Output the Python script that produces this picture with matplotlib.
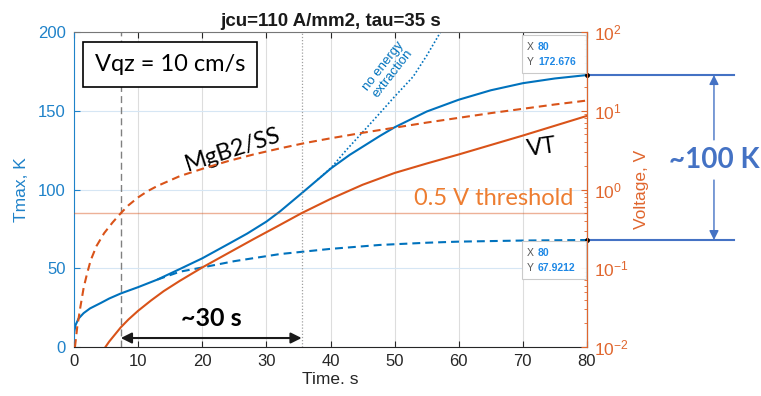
import numpy as np
import matplotlib
matplotlib.use('Agg')
import matplotlib.pyplot as plt
from matplotlib.patches import Rectangle

# Tmax, K (left axis)
t_vt = [0, 0.25, 0.7, 1.5, 2.5, 4.2, 5.5, 7.3, 10, 13, 16.5, 20, 24.3, 27, 30, 32.1,
        35.5, 40.1, 43, 47.7, 50, 55, 60, 65, 70, 75, 80]
tmax_vt = [9, 14, 18, 21.5, 24.5, 28, 30.8, 34, 38, 42.8, 49.5, 56.3, 65.9, 72, 79.6, 86,
           97.6, 113.5, 122, 134, 139.5, 149.5, 157, 163, 167.5, 170.5, 172.676]

t_noext = [38, 40.1, 42.5, 45.1, 47.7, 50, 52.9, 55, 57.6]
tmax_noext = [106.3, 113.8, 125.2, 136.8, 148.5, 159, 171.7, 185, 203]

t_mgb2 = [13, 16.5, 20, 25, 32.1, 40, 47.7, 55, 60, 70, 80]
tmax_mgb2 = [42.8, 47.8, 50.5, 54.5, 59, 62.3, 64.8, 66.2, 66.9, 67.6, 67.9212]

# Voltage, V (right axis)
t_v_vt = [4.9, 5.5, 6.5, 7.3, 8.5, 10, 12, 14, 16.5, 20, 24, 28, 32, 35.5, 40, 45, 50,
          55, 60, 65, 70, 75, 80]
v_vt = [0.0100, 0.01175, 0.01479, 0.01778, 0.02239, 0.02884, 0.0389, 0.05129, 0.06918,
        0.1023, 0.1549, 0.2344, 0.3508, 0.5012, 0.7586, 1.148, 1.622, 2.138, 2.786,
        3.673, 4.842, 6.457, 8.610]

t_v_mgb2 = [0.15, 0.5, 1, 1.5, 2, 2.6, 3.5, 4.7, 6, 7.3, 8.5, 10, 11.5, 13, 16.5, 20.3,
            24, 28, 32, 36, 40, 45, 50, 55, 60, 65, 70, 75, 80]
v_mgb2 = [0.0100, 0.0178, 0.0324, 0.0562, 0.0832, 0.126, 0.191, 0.279, 0.380, 0.501,
          0.631, 0.794, 0.955, 1.109, 1.479, 1.862, 2.291, 2.786, 3.311, 3.890, 4.467,
          5.248, 6.095, 7.079, 8.128, 9.333, 10.59, 12.02, 13.49]

v_threshold = 0.5
t_start = 7.3   # MgB2/SS reaches threshold
t_end = 35.5    # VT reaches threshold

xticks = list(range(0, 81, 10))
yticks_left = [0, 50, 100, 150, 200]

BLUE = '#0072BD'
BLUE_AX = '#1F82C9'
ORANGE = '#D95319'
ORANGE_AX = '#E0662E'
PPT_BLUE = '#4472C4'
PPT_ORANGE = '#ED7D31'
DARK = '#262626'
ANNOT_FONT = ['Lato', 'DejaVu Sans']

plt.rcParams['font.family'] = ['Liberation Sans', 'DejaVu Sans']

W, H = 761, 396
fig = plt.figure(figsize=(W / 100, H / 100), dpi=100)
ax = fig.add_axes([74 / W, 1 - 347 / H, 513 / W, 315 / H])
ax2 = ax.twinx()

# grid
ax.set_axisbelow(True)
ax.grid(axis='x', color='#DDDDDD', lw=0.8)
ax.grid(axis='y', color='#D6E6F4', lw=0.8)

# Tmax curves
ax.plot(t_mgb2, tmax_mgb2, color=BLUE, lw=1.5, ls=(0, (3.8, 2.4)))
ax.plot(t_noext, tmax_noext, color=BLUE, lw=1.2, ls=(0, (1, 1.3)))
ax.plot(t_vt, tmax_vt, color=BLUE, lw=1.5)

ax.axvline(t_start, color='#808080', lw=1, ls=(0, (5, 3)))
ax.axvline(t_end, color='#A0A0A0', lw=0.9, ls=(0, (1, 1.5)))

# voltage curves
ax2.set_yscale('log')
ax2.axhline(v_threshold, color=ORANGE, lw=1, alpha=0.45)
ax2.plot(t_v_mgb2, v_mgb2, color=ORANGE, lw=1.5, ls=(0, (3.8, 2.4)))
ax2.plot(t_v_vt, v_vt, color=ORANGE, lw=1.5)

ax.set_xlim(0, 80)
ax.set_ylim(0, 200)
ax2.set_ylim(1e-2, 1e2)
ax.set_xticks(xticks)
ax.set_yticks(yticks_left)

ax.tick_params(axis='x', direction='in', top=True, colors=DARK, labelsize=12, length=4, pad=5)
ax.tick_params(axis='y', direction='in', colors=BLUE_AX, labelsize=12, length=4, pad=6)
ax2.tick_params(axis='y', which='major', direction='in', colors=ORANGE_AX, labelsize=12.5,
                length=4, pad=5)
ax2.tick_params(axis='y', which='minor', direction='in', colors=ORANGE_AX, length=2)

ax.spines['left'].set_color(BLUE_AX)
ax.spines['bottom'].set_color(DARK)
ax.spines['top'].set_color('#777777')
for s in ['left', 'top', 'bottom']:
    ax2.spines[s].set_visible(False)
ax2.spines['right'].set_color(ORANGE_AX)

ax.set_xlabel('Time. s', fontsize=12.5, color=DARK, labelpad=2)
ax.set_ylabel('Tmax, K', fontsize=12.5, color=BLUE_AX, labelpad=6)
ax2.set_ylabel('Voltage, V', fontsize=12.5, color=ORANGE_AX, labelpad=4)
ax.set_title('jcu=110 A/mm2, tau=35 s', fontsize=13.5, fontweight='bold', color='#1a1a1a', pad=4)

# slide annotations
ax.text(15, 179.5, 'Vqz = 10 cm/s', fontsize=17, family=ANNOT_FONT, ha='center', va='center',
        bbox=dict(boxstyle='square,pad=0.5', fc='white', ec='black', lw=1.2), zorder=5)
ax.text(24.8, 125, 'MgB2/SS', fontsize=17, family=ANNOT_FONT, rotation=18,
        ha='center', va='center')
ax.text(73, 126.5, 'VT', fontsize=17, family=ANNOT_FONT, rotation=8, ha='center', va='center')
ax.text(65.5, 94, '0.5 V threshold', fontsize=17, family=ANNOT_FONT, color=PPT_ORANGE,
        ha='center', va='center')
ax.text(49.0, 176, 'no energy\nextraction', fontsize=9.5, color=BLUE, rotation=52,
        ha='center', va='center', linespacing=1.0)

ax.annotate('', xy=(t_start, 5.7), xytext=(t_end, 5.7),
            arrowprops=dict(arrowstyle='<|-|>', color='#1a1a1a', lw=1.5, mutation_scale=16,
                            shrinkA=0, shrinkB=0))
ax.text((t_start + t_end) / 2, 17.8, '~30 s', fontsize=18, fontweight='bold',
        family=ANNOT_FONT, ha='center', va='center')

# ~100 K bracket outside the axes
t_far = 103
t_arrow = 99.8
for yv in [tmax_vt[-1], tmax_mgb2[-1]]:
    ax.plot([80, t_far], [yv, yv], color=PPT_BLUE, lw=1.5, clip_on=False, zorder=6)
ax.annotate('', xy=(t_arrow, tmax_vt[-1]), xytext=(t_arrow, 131.5), annotation_clip=False,
            arrowprops=dict(arrowstyle='-|>', color=PPT_BLUE, lw=1, mutation_scale=14,
                            shrinkA=0, shrinkB=0))
ax.annotate('', xy=(t_arrow, tmax_mgb2[-1]), xytext=(t_arrow, 106), annotation_clip=False,
            arrowprops=dict(arrowstyle='-|>', color=PPT_BLUE, lw=1, mutation_scale=14,
                            shrinkA=0, shrinkB=0))
ax.text(t_arrow, 118.5, '~100 K', fontsize=20, fontweight='bold', family=ANNOT_FONT,
        color=PPT_BLUE, ha='center', va='center', clip_on=False)


# data tips
def datatip(x, y, above):
    px, py = ax.transData.transform((x, y))
    left = px - 65
    top = py + 40 if above else py - 1
    fig.add_artist(Rectangle((left / W, (top - 38) / H), 64 / W, 38 / H,
                             transform=fig.transFigure, fc='white', ec='#C8C8C8',
                             lw=0.8, alpha=0.95, zorder=7))
    for i, (lab, val) in enumerate([('X', f'{x:g}'), ('Y', f'{y:g}')]):
        yy = (top - 12 - 15 * i) / H
        fig.text((left + 5) / W, yy, lab, fontsize=7.5, color='#555555', va='center', zorder=8)
        fig.text((left + 16) / W, yy, val, fontsize=7.5, color='#1E88E5', va='center',
                 fontweight='bold', zorder=8)
    ax.plot([x], [y], 'o', ms=2.5, color='black', clip_on=False, zorder=8)


datatip(t_vt[-1], tmax_vt[-1], True)
datatip(t_mgb2[-1], tmax_mgb2[-1], False)

fig.savefig('out.png', dpi=100)
